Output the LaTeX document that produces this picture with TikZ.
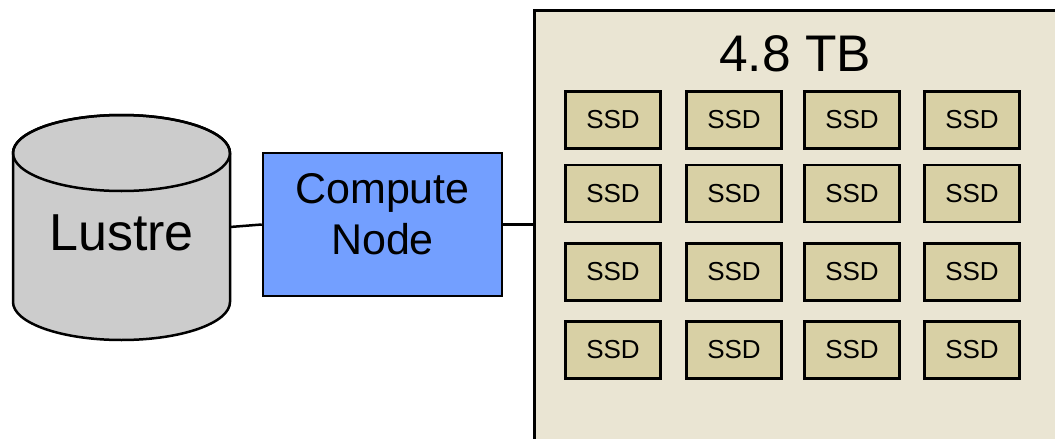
\documentclass[tikz,border=0pt]{standalone}
\usepackage{fontspec}
\setmainfont{Liberation Sans}
\definecolor{lustregray}{HTML}{CCCCCC}
\definecolor{computeblue}{HTML}{739FFF}
\definecolor{tbbeige}{HTML}{EAE5D3}
\definecolor{ssdkhaki}{HTML}{D8D0A5}
\begin{document}
\begin{tikzpicture}[x=1pt,y=-1pt,line width=2.5pt,
    ssdbox/.style={draw,fill=ssdkhaki,minimum width=95pt,minimum height=57pt,inner sep=0pt,font=\fontsize{26}{30}\selectfont}]
    \useasboundingbox (0,0) rectangle (1055,439);
    \def \rx{108.5}; % rayon x du cylindre
    \def \ry{38}; % rayon y du cylindre
    \filldraw[fill=lustregray] (13,153) -- (13,302) arc[start angle=180,end angle=0,x radius=\rx,y radius=\ry] -- (230,153) arc[start angle=0,end angle=-180,x radius=\rx,y radius=\ry] -- cycle;
    \draw (121.5,153) ellipse[x radius=\rx,y radius=\ry];
    \node[font=\fontsize{52}{60}\selectfont] (lustre) at (121.5,232.5) {Lustre};
    \coordinate (lustreside) at (230,227);
    \node[draw,fill=computeblue,minimum width=239pt,minimum height=143pt,align=center,text depth=21pt,font=\fontsize{43}{51}\selectfont] (compute) at (382.5,224.5) {Compute\\Node};
    \node[draw,fill=tbbeige,inner sep=0pt,anchor=north west,minimum width=540pt,minimum height=450pt] (tbbox) at (533,9) {};
    \node[font=\fontsize{51.5}{60}\selectfont] (tblabel) at (795,53.5) {4.8 TB};
    \foreach \c/\x in {1/613,2/734,3/852,4/972}
      \foreach \r/\y in {1/120,2/193.5,3/272,4/350}
        \node[ssdbox] (ssd-\r-\c) at (\x,\y) {SSD};
    \draw (lustreside) -- (compute.west);
    \draw (compute.east) -- (compute.east -| tbbox.west);
\end{tikzpicture}
\end{document}
